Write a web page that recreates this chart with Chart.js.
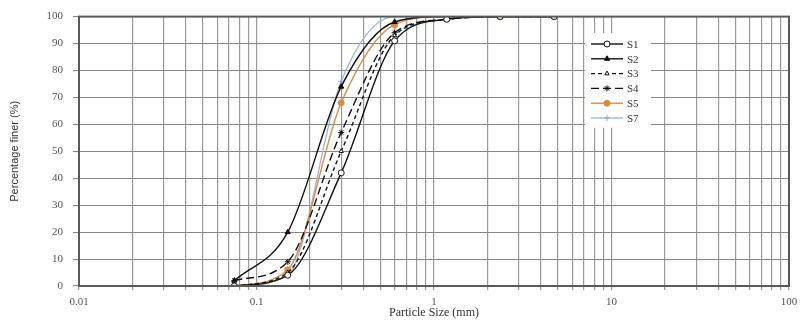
<!DOCTYPE html>
<html>
<head>
<meta charset="utf-8">
<script src="https://cdn.jsdelivr.net/npm/chart.js@4/dist/chart.umd.min.js"></script>
<style>
  html, body { margin: 0; padding: 0; background: #fff; }
  #wrap { width: 804px; height: 322px; position: relative; }
</style>
</head>
<body>
<div id="wrap"><canvas id="c" width="804" height="322"></canvas></div>
<script>
// Sieve sizes (mm) and percentage passing for each sample
const sieveSizes = [0.075, 0.15, 0.3, 0.6, 1.18, 2.36, 4.75];
const s1 = [0, 4, 42, 91, 99, 100, 100];
const s2 = [2, 20, 74, 98, 100, 100, 100];
const s3 = [0, 5, 50, 93, 99, 100, 100];
const s4 = [2, 9, 57, 94, 99, 100, 100];
const s5 = [0, 6, 68, 97, 100, 100, 100];
const s7 = [0, 4, 76, 100, 100, 100, 100];

const xMajorLabels = ['0.01', '0.1', '1', '10', '100'];
const yTicks = [0, 10, 20, 30, 40, 50, 60, 70, 80, 90, 100];

const serif = "'Liberation Serif', 'DejaVu Serif', serif";

function pts(vals) {
  return sieveSizes.map((x, i) => ({ x: x, y: vals[i] }));
}

function series(label, vals, style) {
  return Object.assign({
    label: label,
    data: pts(vals),
    borderWidth: 1.4,
    pointRadius: 3,
    pointBorderWidth: 1,
    cubicInterpolationMode: 'monotone',
    fill: false
  }, style);
}

const datasets = [
  series('S1', s1, { borderColor: '#111', pointStyle: 'circle', pointBackgroundColor: '#fff', pointBorderColor: '#111' }),
  series('S2', s2, { borderColor: '#111', pointStyle: 'triangle', pointBackgroundColor: '#111', pointBorderColor: '#111' }),
  series('S3', s3, { borderColor: '#111', borderDash: [4, 3], pointStyle: 'triangle', pointRadius: 2.5, pointBackgroundColor: '#fff', pointBorderColor: '#111' }),
  series('S4', s4, { borderColor: '#111', borderDash: [8, 4], pointStyle: 'star', pointBackgroundColor: '#111', pointBorderColor: '#111' }),
  series('S5', s5, { borderColor: '#dc8a42', pointStyle: 'circle', pointBackgroundColor: '#dc8a42', pointBorderColor: '#dc8a42' }),
  series('S7', s7, { borderColor: '#a2b6da', pointStyle: 'cross', pointBackgroundColor: '#a2b6da', pointBorderColor: '#8ea4cf' })
];

// x grid ticks: 1..9 within every decade from 0.01 to 100
const decadeStarts = [0.01, 0.1, 1, 10];
const xGridValues = [];
decadeStarts.forEach(d => { for (let k = 1; k <= 9; k++) xGridValues.push(+(d * k).toPrecision(6)); });
xGridValues.push(100);

// Frame around the plotting area
const framePlugin = {
  id: 'frame',
  afterDraw(chart) {
    const { ctx, chartArea: a } = chart;
    ctx.save();
    ctx.strokeStyle = '#5a5a5a';
    ctx.lineWidth = 2;
    ctx.strokeRect(a.left, a.top, a.right - a.left, a.bottom - a.top);
    ctx.restore();
  }
};

// Legend boxed inside the plot, right of centre
const insideLegend = {
  id: 'insideLegend',
  afterDraw(chart) {
    const ctx = chart.ctx;
    const x0 = 585, y0 = 33, w = 66, rowH = 14.8;
    ctx.save();
    ctx.fillStyle = '#fff';
    ctx.fillRect(x0, y0, w, rowH * datasets.length + 6);
    chart.data.datasets.forEach((ds, i) => {
      const y = y0 + 11 + i * rowH;
      // line sample
      ctx.strokeStyle = ds.borderColor;
      ctx.lineWidth = ds.borderWidth;
      ctx.setLineDash(ds.borderDash || []);
      ctx.beginPath();
      ctx.moveTo(x0 + 6, y);
      ctx.lineTo(x0 + 38, y);
      ctx.stroke();
      ctx.setLineDash([]);
      // marker
      ctx.fillStyle = ds.pointBackgroundColor;
      ctx.strokeStyle = ds.pointBorderColor;
      ctx.lineWidth = ds.pointBorderWidth;
      Chart.helpers.drawPoint(ctx, {
        pointStyle: ds.pointStyle,
        radius: ds.pointRadius,
        borderWidth: ds.pointBorderWidth,
        rotation: 0
      }, x0 + 22, y);
      // label
      ctx.fillStyle = '#333';
      ctx.font = '11px ' + serif;
      ctx.textBaseline = 'middle';
      ctx.textAlign = 'left';
      ctx.fillText(ds.label, x0 + 42, y + 1);
    });
    ctx.restore();
  }
};

new Chart(document.getElementById('c'), {
  type: 'line',
  data: { datasets: datasets },
  plugins: [framePlugin, insideLegend],
  options: {
    responsive: false,
    animation: false,
    layout: { padding: { left: 8, right: 15, top: 10, bottom: 2 } },
    plugins: { legend: { display: false }, tooltip: { enabled: false } },
    scales: {
      x: {
        type: 'logarithmic',
        min: 0.01,
        max: 100,
        afterBuildTicks(scale) {
          scale.ticks = xGridValues.map(v => ({ value: v }));
        },
        afterFit(scale) { scale.height = 34; },
        grid: { color: '#9a9a9a', lineWidth: 1.2, tickLength: 4, drawTicks: true },
        border: { display: false },
        ticks: {
          autoSkip: false,
          maxRotation: 0,
          padding: 6,
          color: '#555',
          font: { family: serif, size: 11 },
          callback(v) {
            const i = [0.01, 0.1, 1, 10, 100].findIndex(d => Math.abs(d - v) < d * 1e-6);
            return i >= 0 ? xMajorLabels[i] : '';
          }
        },
        title: {
          display: true,
          text: 'Particle Size (mm)',
          color: '#333',
          font: { family: serif, size: 12 },
          padding: { top: 0, bottom: 0 }
        }
      },
      y: {
        min: 0,
        max: 100,
        afterBuildTicks(scale) {
          scale.ticks = yTicks.map(v => ({ value: v }));
        },
        afterFit(scale) { scale.width = 71; },
        grid: { color: '#888', lineWidth: 1.1, tickLength: 6 },
        border: { display: false },
        ticks: {
          padding: 10,
          color: '#555',
          font: { family: serif, size: 11 }
        },
        title: {
          display: true,
          text: 'Percentage finer (%)',
          color: '#333',
          font: { family: "'Liberation Sans Narrow', 'Liberation Sans', sans-serif", size: 11 },
          padding: { top: 0, bottom: 0 }
        }
      }
    }
  }
});
</script>
</body>
</html>
